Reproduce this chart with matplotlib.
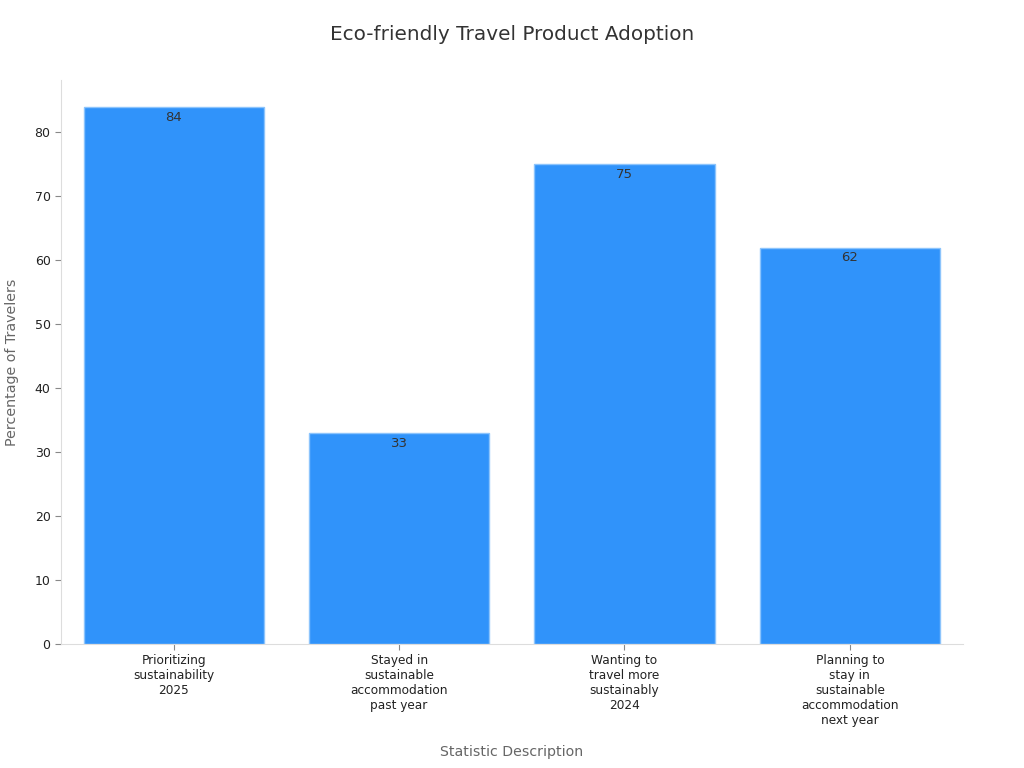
import matplotlib
matplotlib.use("Agg")
import matplotlib.pyplot as plt

categories = ["Prioritizing\nsustainability\n2025",
              "Stayed in\nsustainable\naccommodation\npast year",
              "Wanting to\ntravel more\nsustainably\n2024",
              "Planning to\nstay in\nsustainable\naccommodation\nnext year"]
values = [84, 33, 75, 62]

fig = plt.figure(figsize=(10.24, 7.68), dpi=100)
ax = fig.add_axes([0.0596, 0.1615, 0.8804, 0.7343])
x = list(range(len(categories)))
bars = ax.bar(x, values, width=0.8, color="#3093FA", edgecolor="#8CC4FC", linewidth=1)
for xi, v in zip(x, values):
    ax.text(xi, v - 0.6, f"{v}", ha="center", va="top", fontsize=9.5, color="#333333")
ax.set_xlim(-0.5, 3.5)
ax.set_ylim(0, 88.2)
ax.set_xticks(x)
ax.set_xticklabels(categories, fontsize=8.7, color="#222222")
ax.set_yticks(range(0, 90, 10))
ax.tick_params(axis="y", labelsize=9, colors="#222222", length=4, color="#888888")
ax.tick_params(axis="x", length=4, color="#888888")
for s in ["top", "right"]:
    ax.spines[s].set_visible(False)
for s in ["left", "bottom"]:
    ax.spines[s].set_color("#DDDDDD")
ax.set_ylabel("Percentage of Travelers", fontsize=10.3, color="#666666", labelpad=11)
ax.set_xlabel("Statistic Description", fontsize=10.2, color="#666666", labelpad=13)
fig.suptitle("Eco-friendly Travel Product Adoption", fontsize=14.4, color="#333333", y=0.968)
fig.savefig("out.png", dpi=100)
